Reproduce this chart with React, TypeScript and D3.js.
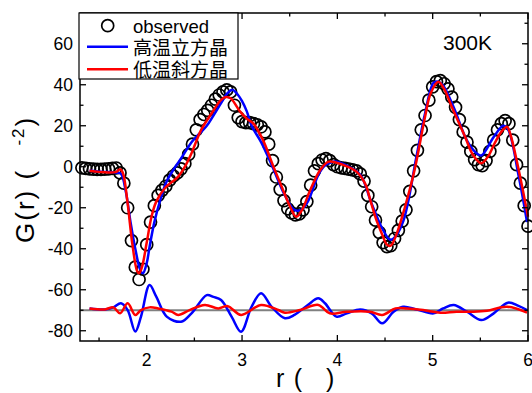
import React from "react";
import * as d3 from "d3";

const rObs = [
  1.32, 1.36, 1.40, 1.44, 1.48, 1.52, 1.56, 1.60, 1.64, 1.68,
  1.72, 1.76, 1.80, 1.84, 1.88, 1.92, 1.96, 2.00, 2.04, 2.08,
  2.12, 2.16, 2.20, 2.24, 2.28, 2.32, 2.36, 2.40, 2.44, 2.48,
  2.52, 2.56, 2.60, 2.64, 2.68, 2.72, 2.76, 2.80, 2.84, 2.88,
  2.92, 2.96, 3.00, 3.04, 3.08, 3.12, 3.16, 3.20, 3.24, 3.28,
  3.32, 3.36, 3.40, 3.44, 3.48, 3.52, 3.56, 3.60, 3.64, 3.68,
  3.72, 3.76, 3.80, 3.84, 3.88, 3.92, 3.96, 4.00, 4.04, 4.08,
  4.12, 4.16, 4.20, 4.24, 4.28, 4.32, 4.36, 4.40, 4.44, 4.48,
  4.52, 4.56, 4.60, 4.64, 4.68, 4.72, 4.76, 4.80, 4.84, 4.88,
  4.92, 4.96, 5.00, 5.04, 5.08, 5.12, 5.16, 5.20, 5.24, 5.28,
  5.32, 5.36, 5.40, 5.44, 5.48, 5.52, 5.56, 5.60, 5.64, 5.68,
  5.72, 5.76, 5.80, 5.84, 5.88, 5.92, 5.96, 6.00,
];
const gObs = [
  -0.5, -0.8, -1.0, -1.2, -1.3, -1.3, -1.2, -1.0, -0.8, -0.6,
  -3, -8, -20, -36, -49, -55, -50, -38, -27, -19,
  -14, -11.5, -9.5, -6.5, -4.5, -3, -1, 1.5, 6, 11,
  18, 23, 25.5, 27.5, 30, 33, 35, 36.5, 37.5, 36.5,
  30, 24, 22, 21.5, 21.5, 21, 20.5, 19.5, 17, 11,
  3, -5, -11, -16.5, -20.5, -22.5, -23.5, -23, -21, -17,
  -9, -2, 1.5, 3.3, 4, 3, 1, 0, -0.5, -0.8,
  -1.2, -1.5, -2, -3.5, -7, -14, -19.5, -26, -32, -37,
  -39, -38.5, -35, -31, -26.5, -21, -12, -2, 8, 18,
  25, 32.5, 39, 41.5, 42, 40.5, 38, 34, 29, 23,
  17, 12, 7.5, 3.5, 1, 0.5, 3, 7.5, 13, 18,
  21, 22.5, 21, 13, 1, -8, -19, -29,
];

const rHigh = [
  1.40, 1.55, 1.68, 1.73, 1.78, 1.83, 1.88, 1.93, 1.96, 2.00,
  2.03, 2.08, 2.15, 2.21, 2.30, 2.36, 2.47, 2.55, 2.63, 2.70,
  2.78, 2.85, 2.90, 2.95, 3.00, 3.05, 3.10, 3.20, 3.31, 3.45,
  3.55, 3.62, 3.69, 3.80, 3.87, 3.99, 4.10, 4.24, 4.36, 4.47,
  4.55, 4.59, 4.69, 4.83, 4.92, 5.01, 5.06, 5.11, 5.22, 5.36,
  5.45, 5.51, 5.64, 5.74, 5.79, 5.90, 5.99,
];
const gHigh = [
  -2, -2.5, -2.8, -3.5, -12, -27, -40, -50, -52, -47,
  -39, -27, -15, -7, 0, 4, 12, 16, 20, 25,
  31, 36, 37.5, 35.5, 32, 27, 20, 12, 1, -14,
  -21, -21, -17, -4, 0.6, 2.5, 0.5, -3.9, -18, -30,
  -35.5, -35, -26.7, 5, 26, 41, 41.5, 39.6, 29, 12.7,
  7, 5.5, 14.5, 20, 18.3, -4, -27,
];

const rLow = [
  1.40, 1.50, 1.60, 1.68, 1.72, 1.75, 1.80, 1.85, 1.90, 1.92,
  1.95, 2.00, 2.05, 2.10, 2.19, 2.33, 2.40, 2.47, 2.57, 2.68,
  2.78, 2.83, 2.88, 2.98, 3.05, 3.12, 3.22, 3.33, 3.43, 3.50,
  3.57, 3.63, 3.71, 3.82, 3.91, 4.06, 4.20, 4.29, 4.35, 4.41,
  4.47, 4.52, 4.56, 4.62, 4.71, 4.81, 4.92, 4.98, 5.06, 5.12,
  5.20, 5.34, 5.42, 5.51, 5.58, 5.65, 5.72, 5.78, 5.82, 5.88,
  5.94, 6.00,
];
const gLow = [
  -2.0, -2.5, -2.8, -2.5, -1.2, -3, -18, -38, -51, -52,
  -49, -37, -24.4, -17, -10.5, -4.8, 0, 6.6, 17.9, 26,
  32.6, 34, 33.4, 26.9, 23.5, 21, 13, 0, -11.3, -19,
  -24.4, -21, -12, -1.6, 2.5, 0.9, -2.4, -8.1, -17, -26,
  -33, -38, -38.5, -33, -19.5, -1.6, 24.4, 36, 41.5, 38,
  29.3, 14.6, 6, 1.7, 5, 11.4, 17, 19.5, 15, 3.3,
  -10, -24.4,
];

const DIFF_OFFSET = -70;
const rDiffHigh = [
  1.40, 1.56, 1.65, 1.73, 1.80, 1.88, 1.94, 2.03, 2.10, 2.21,
  2.36, 2.47, 2.63, 2.70, 2.78, 2.89, 2.99, 3.10, 3.20, 3.31,
  3.45, 3.55, 3.69, 3.80, 3.87, 3.99, 4.10, 4.24, 4.36, 4.47,
  4.59, 4.69, 4.83, 5.01, 5.11, 5.22, 5.36, 5.51, 5.64, 5.79,
  5.90, 5.99,
];
const dHigh = [
  0.9, 0.4, 1.4, 3.4, 0.1, -10.4, -3.1, 12.3, 6.6, -3.1,
  -5.6, -1.5, 7.4, 6.5, 5, -3.1, -10.5, 1.7, 8.3, 1.7,
  -3.9, -2.3, 2.6, 5.8, 3.4, -3.1, -1.5, 0.4, -1.5, -6.4,
  -0.7, 1.7, 0.4, -1.5, 0.9, 2.6, -0.7, -4.8, -1.5, 3.7,
  2.1, 0.1,
];
const rDiffLow = [
  1.40, 1.56, 1.65, 1.72, 1.80, 1.88, 1.94, 2.03, 2.12, 2.26,
  2.33, 2.45, 2.61, 2.75, 2.85, 2.99, 3.20, 3.38, 3.45, 3.61,
  3.80, 3.92, 4.10, 4.34, 4.47, 4.61, 4.73, 4.90, 5.08, 5.25,
  5.43, 5.57, 5.78, 5.99,
];
const dLow = [
  0.9, 0.4, 1.4, -1.5, 3.4, -2.3, 0.1, 1.4, 0.9, -0.7,
  -2.3, 0.1, 2.6, 0.9, 2, -2.3, 2.6, 0.1, -1.2, 0.1,
  2.6, -1.5, -0.7, -0.7, -2.3, 0.9, 0.9, 0.1, -1.2, -0.7,
  -0.7, -0.2, 1.7, -1.2,
];

const xMajor = [2, 3, 4, 5, 6];
const xMinor = [1.5, 2.5, 3.5, 4.5, 5.5];
const yMajor = [-80, -60, -40, -20, 0, 20, 40, 60];
const yMinor = [-70, -50, -30, -10, 10, 30, 50, 70];

const legendLabels = ["observed", "高温立方晶", "低温斜方晶"];
const tempLabel = "300K";

const W = 532;
const H = 393;
const M = { left: 80, right: 528, top: 13, bottom: 341 };
const FONT = "'Liberation Sans', Arial, sans-serif";
const CJK = "'Noto Sans CJK SC', 'Noto Sans CJK JP', sans-serif";

export default function App() {
  const x = d3.scaleLinear().domain([1.3, 6.0]).range([M.left, M.right]);
  const y = d3.scaleLinear().domain([-85, 75]).range([M.bottom, M.top]);

  const line = d3
    .line<[number, number]>()
    .x((d) => x(d[0]))
    .y((d) => y(d[1]))
    .curve(d3.curveCatmullRom.alpha(0.5));

  const highPath = line(rHigh.map((r, i) => [r, gHigh[i]]));
  const lowPath = line(rLow.map((r, i) => [r, gLow[i]]));
  const dHighPath = line(rDiffHigh.map((r, i) => [r, dHigh[i] + DIFF_OFFSET]));
  const dLowPath = line(rDiffLow.map((r, i) => [r, dLow[i] + DIFF_OFFSET]));

  const majLen = 6;
  const minLen = 3.5;

  return (
    <svg
      width={W}
      height={H}
      style={{ position: "absolute", left: 0, top: 0, background: "#fff" }}
      fontFamily={FONT}
    >
      <rect x={0} y={0} width={W} height={H} fill="#fff" />
      {/* baseline for difference curves */}
      <line
        x1={M.left}
        x2={M.right}
        y1={y(DIFF_OFFSET)}
        y2={y(DIFF_OFFSET)}
        stroke="#808080"
        strokeWidth={2}
      />
      {/* observed circles */}
      {rObs.map((r, i) => (
        <circle
          key={i}
          cx={x(r)}
          cy={y(gObs[i])}
          r={6}
          fill="none"
          stroke="#000"
          strokeWidth={1.7}
        />
      ))}
      <path d={highPath || ""} fill="none" stroke="#0000ff" strokeWidth={2.5} />
      <path d={lowPath || ""} fill="none" stroke="#ff0000" strokeWidth={2.5} />
      <path d={dHighPath || ""} fill="none" stroke="#0000ff" strokeWidth={2.5} />
      <path d={dLowPath || ""} fill="none" stroke="#ff0000" strokeWidth={2.5} />

      {/* frame */}
      <rect
        x={M.left}
        y={M.top}
        width={M.right - M.left}
        height={M.bottom - M.top}
        fill="none"
        stroke="#000"
        strokeWidth={1.5}
      />
      {/* x ticks */}
      {xMajor.map((t) => (
        <g key={"xm" + t}>
          <line x1={x(t)} x2={x(t)} y1={M.bottom} y2={M.bottom - majLen} stroke="#000" strokeWidth={1.3} />
          <line x1={x(t)} x2={x(t)} y1={M.top} y2={M.top + majLen} stroke="#000" strokeWidth={1.3} />
          <text x={x(t)} y={366} textAnchor="middle" fontSize={17.5} fill="#000">
            {t}
          </text>
        </g>
      ))}
      {xMinor.map((t) => (
        <g key={"xn" + t}>
          <line x1={x(t)} x2={x(t)} y1={M.bottom} y2={M.bottom - minLen} stroke="#000" strokeWidth={1.3} />
          <line x1={x(t)} x2={x(t)} y1={M.top} y2={M.top + minLen} stroke="#000" strokeWidth={1.3} />
        </g>
      ))}
      {/* y ticks */}
      {yMajor.map((t) => (
        <g key={"ym" + t}>
          <line x1={M.left} x2={M.left + majLen} y1={y(t)} y2={y(t)} stroke="#000" strokeWidth={1.3} />
          <line x1={M.right} x2={M.right - majLen} y1={y(t)} y2={y(t)} stroke="#000" strokeWidth={1.3} />
          <text x={73} y={y(t)} dy="0.36em" textAnchor="end" fontSize={17.5} fill="#000">
            {t}
          </text>
        </g>
      ))}
      {yMinor.map((t) => (
        <g key={"yn" + t}>
          <line x1={M.left} x2={M.left + minLen} y1={y(t)} y2={y(t)} stroke="#000" strokeWidth={1.3} />
          <line x1={M.right} x2={M.right - minLen} y1={y(t)} y2={y(t)} stroke="#000" strokeWidth={1.3} />
        </g>
      ))}

      {/* legend */}
      <rect x={79} y={13} width={159} height={66} fill="#fff" stroke="#000" strokeWidth={1.2} />
      <circle cx={107.7} cy={25.7} r={6} fill="none" stroke="#000" strokeWidth={1.7} />
      <text x={133} y={33} fontSize={18.5} fill="#000">
        {legendLabels[0]}
      </text>
      <line x1={87} x2={128} y1={46.7} y2={46.7} stroke="#0000ff" strokeWidth={2.5} />
      <text x={133} y={54.5} fontSize={19} fontFamily={CJK} fill="#000">
        {legendLabels[1]}
      </text>
      <line x1={87} x2={128} y1={69.3} y2={69.3} stroke="#ff0000" strokeWidth={2.5} />
      <text x={133} y={77} fontSize={19} fontFamily={CJK} fill="#000">
        {legendLabels[2]}
      </text>

      <text x={443} y={50} fontSize={21} fill="#000">
        {tempLabel}
      </text>

      {/* axis titles */}
      <text x={276} y={386.5} fontSize={25} fill="#000" letterSpacing={1.2}>
        r (<tspan fillOpacity={0}>Å</tspan>
        <tspan dx={5}>)</tspan>
      </text>
      <text
        transform={`translate(34,243) rotate(-90)`}
        textAnchor="start"
        fontSize={26}
        fill="#000"
        letterSpacing={2}
      >
        G(r) (<tspan fillOpacity={0}>Å</tspan>
        <tspan fontSize={17} dy={-10} dx={4}>-2</tspan>
        <tspan dy={10}>)</tspan>
      </text>
    </svg>
  );
}
